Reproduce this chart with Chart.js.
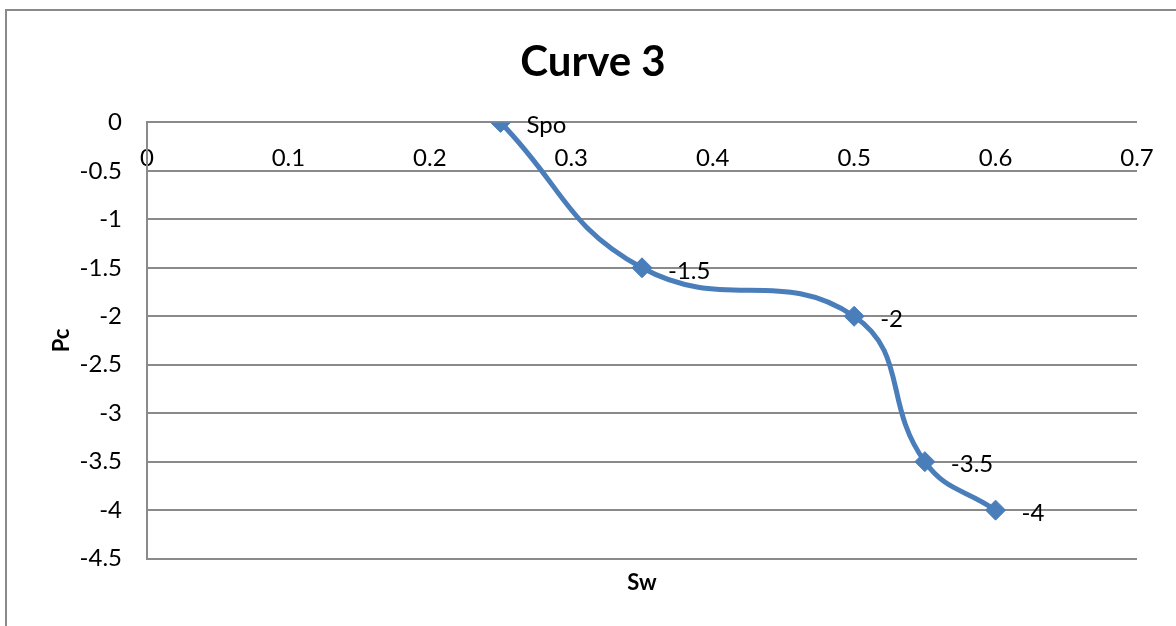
<!DOCTYPE html>
<html>
<head>
<meta charset="utf-8">
<title>Curve 3</title>
<script src="https://cdn.jsdelivr.net/npm/chart.js@4.4.1/dist/chart.umd.min.js"></script>
<style>
  html, body { margin: 0; padding: 0; background: #ffffff; }
  #wrap { width: 1176px; height: 626px; }
</style>
</head>
<body>
<div id="wrap"><canvas id="chart" width="1176" height="626"></canvas></div>
<script>
// Water saturation (Sw) against capillary pressure (Pc)
const sw = [0.25, 0.35, 0.5, 0.55, 0.6];
const pc = [0, -1.5, -2, -3.5, -4];
const pointLabels = ['Spo', '-1.5', '-2', '-3.5', '-4'];

// Axis ticks
const xTickValues = [0, 0.1, 0.2, 0.3, 0.4, 0.5, 0.6, 0.7];
const xTickLabels = ['0', '0.1', '0.2', '0.3', '0.4', '0.5', '0.6', '0.7'];
const yTickValues = [0, -0.5, -1, -1.5, -2, -2.5, -3, -3.5, -4, -4.5];
const yTickLabels = ['0', '-0.5', '-1', '-1.5', '-2', '-2.5', '-3', '-3.5', '-4', '-4.5'];

const FONT = 'Lato, "Open Sans", "DejaVu Sans", sans-serif';
const GRID = '#8a8a8a';
const BLUE = '#4a7ebb';

function labelFor(values, labels, v) {
  const i = values.findIndex(t => Math.abs(t - v) < 1e-6);
  return i >= 0 ? labels[i] : '';
}

// Thin frame around the whole chart
const framePlugin = {
  id: 'frame',
  beforeDraw(chart) {
    const ctx = chart.ctx;
    ctx.save();
    ctx.strokeStyle = GRID;
    ctx.lineWidth = 2;
    ctx.strokeRect(6, 10, chart.width + 100, chart.height + 100);
    ctx.restore();
  }
};

// Text beside each marker
const pointLabelPlugin = {
  id: 'pointLabels',
  afterDatasetsDraw(chart) {
    const meta = chart.getDatasetMeta(0);
    const ctx = chart.ctx;
    ctx.save();
    ctx.font = '24px ' + FONT;
    ctx.fillStyle = '#000000';
    ctx.textAlign = 'left';
    ctx.textBaseline = 'middle';
    meta.data.forEach((pt, i) => {
      ctx.fillText(pointLabels[i], pt.x + 26, pt.y + 3);
    });
    ctx.restore();
  }
};

new Chart(document.getElementById('chart'), {
  type: 'scatter',
  data: {
    datasets: [{
      label: 'Pc',
      data: sw.map((x, i) => ({ x: x, y: pc[i] })),
      showLine: true,
      borderColor: BLUE,
      backgroundColor: BLUE,
      borderWidth: 5,
      tension: 0.45,
      pointStyle: 'rectRot',
      pointRadius: 10,
      pointHoverRadius: 10,
      pointBorderWidth: 1,
      pointBorderColor: BLUE,
      xAxisID: 'x',
      yAxisID: 'y'
    }]
  },
  options: {
    responsive: false,
    animation: false,
    devicePixelRatio: 1,
    layout: { padding: { left: 49, right: 39, top: 0, bottom: 0 } },
    plugins: {
      legend: { display: false },
      tooltip: { enabled: false },
      title: {
        display: true,
        text: 'Curve 3',
        color: '#000000',
        font: { family: FONT, size: 42, weight: 'bold', lineHeight: 1.2 },
        padding: { top: 37, bottom: 35 }
      }
    },
    scales: {
      x: {
        type: 'linear',
        position: 'bottom',
        min: 0,
        max: 0.7,
        grid: { display: false, drawTicks: false },
        border: { display: false },
        ticks: { display: false },
        title: {
          display: true,
          text: 'Sw',
          color: '#000000',
          font: { family: FONT, size: 22, weight: 'bold', lineHeight: 1.2 },
          padding: { top: 11, bottom: 30 }
        }
      },
      xTop: {
        type: 'linear',
        axis: 'x',
        position: { y: 0 },
        min: 0,
        max: 0.7,
        grid: { display: false, drawTicks: false },
        border: { display: false },
        ticks: {
          stepSize: 0.1,
          padding: 21,
          color: '#000000',
          font: { family: FONT, size: 24 },
          maxRotation: 0,
          autoSkip: false,
          callback: (v) => labelFor(xTickValues, xTickLabels, v)
        }
      },
      y: {
        type: 'linear',
        position: 'left',
        min: -4.5,
        max: 0,
        afterFit(scale) { scale.width = 98; },
        grid: { color: GRID, lineWidth: 2, drawTicks: false },
        border: { display: true, color: GRID, width: 2 },
        ticks: {
          stepSize: 0.5,
          padding: 25,
          color: '#000000',
          font: { family: FONT, size: 24 },
          callback: (v) => labelFor(yTickValues, yTickLabels, v)
        },
        title: {
          display: true,
          text: 'Pc',
          color: '#000000',
          font: { family: FONT, size: 22, weight: 'bold', lineHeight: 1.2 },
          padding: { top: 0, bottom: 0 }
        }
      }
    }
  },
  plugins: [framePlugin, pointLabelPlugin]
});
</script>
</body>
</html>
